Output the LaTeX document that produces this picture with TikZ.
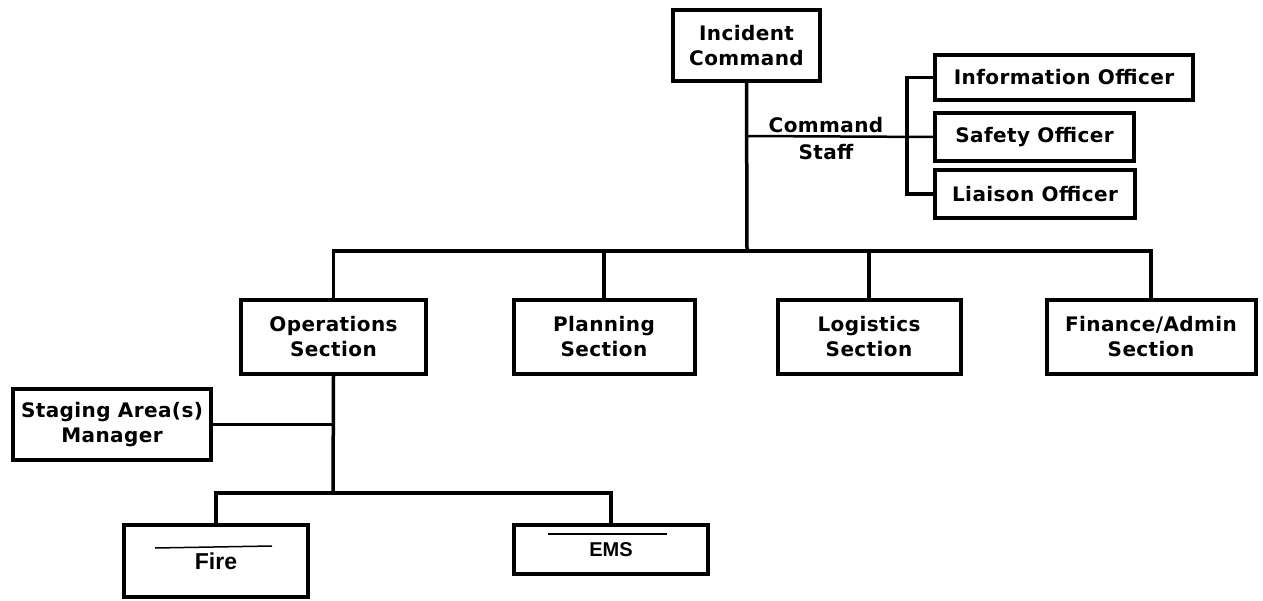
\documentclass[tikz,border=0pt]{standalone}
\usepackage{fontspec}
\setmainfont{DejaVu Sans}[LetterSpace=2]
\newfontfamily\arialfont{Liberation Sans}
\begin{document}
\begin{tikzpicture}[x=1pt,y=-1pt,
	unit/.style={draw,line width=4pt,align=center,inner sep=0pt,font=\bfseries\fontsize{20}{25}\selectfont},
	crew/.style={unit,font=\arialfont\bfseries\fontsize{20}{22}\selectfont},
	link/.style={line width=3.5pt}]
	\useasboundingbox (0,0) rectangle (1263,601);
	% command and staff
	\node[unit,minimum width=147,minimum height=71](ic) at (746.5,45.5) {Incident\\Command};
	\node[unit,minimum width=258,minimum height=45](info) at (1064,77.5) {Information Officer};
	\node[unit,minimum width=199,minimum height=48](safety) at (1034.5,137) {Safety Officer};
	\node[unit,minimum width=200,minimum height=48](liaison) at (1035,194) {Liaison Officer};
	\node[font=\bfseries\fontsize{20}{25}\selectfont,align=center](staff) at (826,139) {Command\\[2pt]Staff};
	% sections
	\node[unit,minimum width=185,minimum height=74](ops) at (333.5,337) {Operations\\Section};
	\node[unit,minimum width=181,minimum height=74](plan) at (604,337) {Planning\\Section};
	\node[unit,minimum width=183,minimum height=74](log) at (869,337) {Logistics\\Section};
	\node[unit,minimum width=209,minimum height=74](fin) at (1151,337) {Finance/Admin\\Section};
	% operations branch
	\node[unit,minimum width=198,minimum height=71](stage) at (112,424.5) {Staging Area(s)\\Manager};
	\node[crew,minimum width=184,minimum height=72](fire) at (216,561) {\fontsize{23}{25}\selectfont\raisebox{-4pt}{Fire}};
	\node[crew,minimum width=194,minimum height=49](ems) at (611,549.5) {EMS};
	\coordinate (brk) at (907,136);
	\coordinate (bus) at (747,251);
	\coordinate (lowbus) at (333,493);
	\draw[link] (ic.south) -- (bus);
	\draw[line width=2.5pt] (ic.south |- brk) -- (safety.west);
	\draw[link] (info.west) -- (info.west -| brk) -- (liaison.west -| brk) -- (liaison.west);
	\draw[link] (ops.north) -- (ops.north |- bus) -- (fin.north |- bus) -- (fin.north);
	\foreach \s in {plan,log}
		\draw[link] (\s.north) -- (\s.north |- bus);
	\draw[link] (ops.south) -- (lowbus);
	\draw[link] (stage.east) -- (stage.east -| lowbus);
	\draw[link] (fire.north) -- (fire.north |- lowbus) -- (ems.north |- lowbus) -- (ems.north);
	% marks above the crew names
	\draw[line width=1.5pt] (155,548) -- (272,546);
	\draw[line width=1.5pt] (548,534) -- (667,534);
\end{tikzpicture}
\end{document}
